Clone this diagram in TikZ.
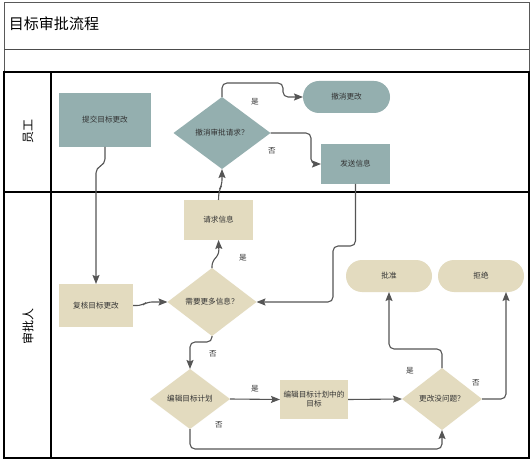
\documentclass[tikz,border=0pt]{standalone}
\usepackage{fontspec}
\setmainfont{Noto Sans CJK SC}
\usetikzlibrary{shapes.geometric,arrows.meta}
\definecolor{teal}{HTML}{94AFAF}
\definecolor{beige}{HTML}{E3DBBF}
\definecolor{lnc}{HTML}{555555}
\definecolor{txc}{HTML}{333333}
\begin{document}
\begin{tikzpicture}[x=1pt,y=-1pt,
  every node/.style={inner sep=0pt, outer sep=0pt, text=txc, font=\fontsize{7.6}{9}\selectfont},
  boxa/.style={rectangle, fill=teal, draw=none},
  boxb/.style={rectangle, fill=beige, draw=none},
  pill/.style={rectangle, rounded corners=16pt, draw=none, minimum height=32pt},
  dia/.style={diamond, aspect=2, draw=none},
  conn/.style={draw=lnc, line width=1.1pt, rounded corners=5pt, -{Stealth[length=9pt,width=7pt,inset=1.5pt]}},
  lab/.style={font=\fontsize{7.6}{9}\selectfont, text=txc},
  lane/.style={font=\fontsize{12}{14}\selectfont, text=black, rotate=90}
]
\useasboundingbox (0,0) rectangle (532,462);
\fill[white] (0,0) rectangle (532,462);
% frame
\draw[draw=black!65, line width=0.9pt] (4,2) rectangle (529,72);
\draw[draw=black!70, line width=0.9pt] (4,49) -- (529,49);
\draw[draw=black, line width=1.4pt] (4,72) rectangle (529,458);
\draw[draw=black, line width=1.4pt] (4,192) -- (529,192);
\draw[draw=black, line width=1.1pt] (51,72) -- (51,458);
\node[anchor=west, text=black, font=\fontsize{15}{17}\selectfont] (title) at (9,24) {目标审批流程};
\node[lane] (l1) at (28,131.5) {员工};
\node[lane] (l2) at (28,326) {审批人};

% nodes
\node[boxa, minimum width=92pt, minimum height=54pt] (r1) at (105,120) {提交目标更改};
\node[dia, fill=teal, minimum width=97pt, minimum height=72pt] (d1) at (222,133) {撤消审批请求？};
\node[pill, fill=teal, minimum width=87pt] (s1) at (346.5,97) {撤消更改};
\node[boxa, minimum width=69pt, minimum height=40pt] (r2) at (355.5,164) {发送信息};
\node[boxb, minimum width=69pt, minimum height=40pt] (r3) at (218.5,220) {请求信息};
\node[boxb, minimum width=74pt, minimum height=43pt] (r4) at (96,305.5) {复核目标更改};
\node[dia, fill=beige, minimum width=89pt, minimum height=68pt] (d2) at (212,302) {需要更多信息？};
\node[pill, fill=beige, minimum width=86pt] (s2) at (389,276) {批准};
\node[pill, fill=beige, minimum width=86pt] (s3) at (481,276) {拒绝};
\node[dia, fill=beige, minimum width=80pt, minimum height=60pt] (d3) at (190,399) {编辑目标计划};
\node[boxb, minimum width=68pt, minimum height=39pt, align=center] (r5) at (314,399.5) {编辑目标计划中的\\目标};
\node[dia, fill=beige, minimum width=80pt, minimum height=62pt] (d4) at (442,399) {更改没问题？};

% connectors
\draw[conn] (r1.south) -- (105,164) -- (96,168) -- (r4.north);
\draw[conn] (r4.east) -- (142,305.5) -- (147,302) -- (d2.west);
\draw[conn] (d2.north) -- (212,261) -- (219,255) -- (r3.south);
\draw[conn] (r3.north) -- (219,190) -- (222,185) -- (d1.south);
\draw[conn] (d1.north) -- (222,83) -- (283,83) -- (283,97) -- (s1.west);
\draw[conn] (d1.east) -- (311,133) -- (311,164) -- (r2.west);
\draw[conn] (r2.south) -- (355.5,246) -- (333,246) -- (333,302) -- (d2.east);
\draw[conn] (d2.south) -- (212,342) -- (190,342) -- (d3.north);
\draw[conn] (d3.east) -- (r5.west);
\draw[conn] (r5.east) -- (d4.west);
\draw[conn] (d3.south) -- (190,449) -- (442,449) -- (d4.south);
\draw[conn] (d4.north) -- (442,349) -- (389,349) -- (s2.south);
\draw[conn] (d4.east) -- (506,399) -- (s3.south -| 506,0);

% labels
\node[lab] (t1) at (255,102) {是};
\node[lab] (t2) at (272,151) {否};
\node[lab] (t3) at (243,258) {是};
\node[lab] (t4) at (213,354) {否};
\node[lab] (t5) at (255,389) {是};
\node[lab] (t6) at (219,425) {否};
\node[lab] (t7) at (410,371) {是};
\node[lab] (t8) at (476,383) {否};
\end{tikzpicture}
\end{document}
